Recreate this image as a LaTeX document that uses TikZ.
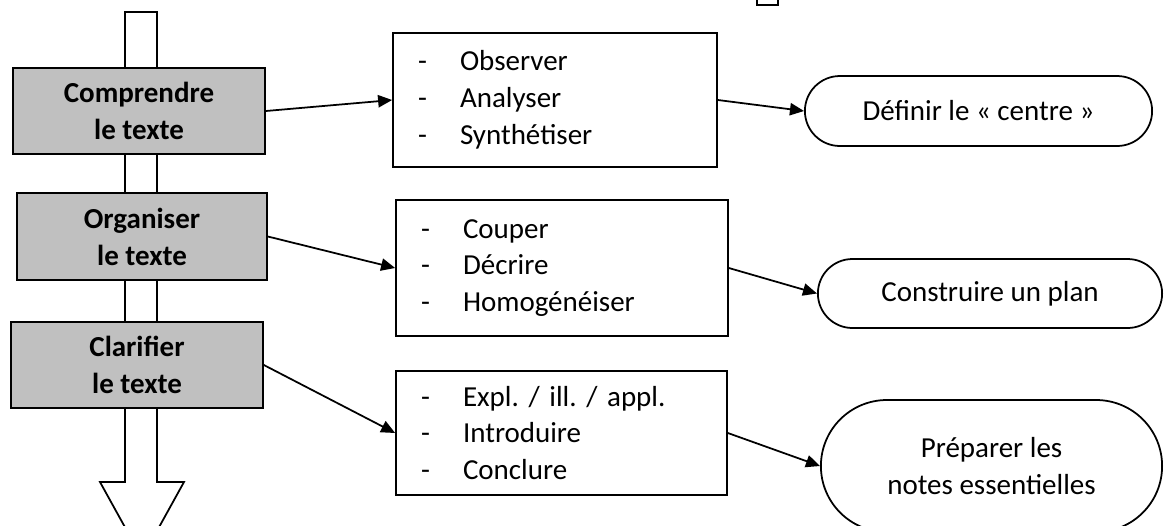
\documentclass[tikz,border=0pt]{standalone}
\usepackage{fontspec}
\setmainfont{Carlito}
\usepackage{tikz}
\usetikzlibrary{arrows.meta}
\usetikzlibrary{shapes.misc}

\definecolor{boxgray}{RGB}{192,192,192}
\newcommand{\itemdash}{\makebox[0.84cm][l]{-}}
\frenchspacing

\begin{document}
\begin{tikzpicture}[x=0.02cm,y=-0.02cm,
	every node/.style={font=\fontsize{16.5}{21}\selectfont},
	stage/.style={draw,line width=1pt,fill=boxgray,align=center,minimum height=1.72cm,font=\fontsize{16.5}{21}\selectfont\bfseries},
	tasks/.style={draw,line width=1pt,fill=white,align=left,inner xsep=0.5cm},
	goal/.style={draw,line width=1pt,rounded rectangle,fill=white,align=center},
	link/.style={line width=1pt,-{Triangle[length=8pt,width=7pt]}}]
	\useasboundingbox (0,0) rectangle (1170,525);

	% big downward arrow
	\draw[line width=1pt,fill=white] (125,12) -- (157,12) -- (157,482) -- (184,482) -- (142,558) -- (100,482) -- (125,482) -- cycle;
	\draw[line width=1pt] (757,-15) rectangle (778,5);

	\node[stage,minimum width=5.04cm] (comprendre) at (139,111) {Comprendre\\le texte};
	\node[stage,minimum width=5.0cm,minimum height=1.74cm] (organiser) at (142,236.5) {Organiser\\le texte};
	\node[stage,minimum width=5.04cm] (clarifier) at (137,365) {Clarifier\\le texte};

	\node[tasks,text width=5.48cm,minimum height=2.68cm] (etapesA) at (555,100) {\itemdash Observer\\\itemdash Analyser\\\itemdash Synthétiser};
	\node[tasks,text width=5.64cm,minimum height=2.72cm] (etapesB) at (562,268) {\itemdash Couper\\\itemdash Décrire\\\itemdash Homogénéiser};
	\node[tasks,text width=5.62cm,minimum height=2.48cm] (etapesC) at (561.5,433) {\itemdash Expl. / ill. / appl.\\\itemdash Introduire\\\itemdash Conclure};

	\node[goal,minimum width=7.18cm,minimum height=1.4cm] (centre) at (978.5,111) {Définir le « centre »};
	\node[goal,minimum width=7.12cm,minimum height=1.38cm] (plan) at (990,293.5) {Construire un plan};
	\node[goal,minimum width=7.06cm,minimum height=2.64cm] (notes) at (991.5,466) {Préparer les\\notes essentielles};

	\draw[link] (comprendre.east) -- (etapesA.west);
	\draw[link] (organiser.east) -- (etapesB.west);
	\draw[link] (clarifier.east) -- (etapesC.west);
	\draw[link] (etapesA.east) -- (centre.west);
	\draw[link] (etapesB.east) -- (plan.west);
	\draw[link] (etapesC.east) -- (notes.west);

	%\draw[step=50,gray,ultra thin] (0,0) grid (1170,525);
\end{tikzpicture}
\end{document}
